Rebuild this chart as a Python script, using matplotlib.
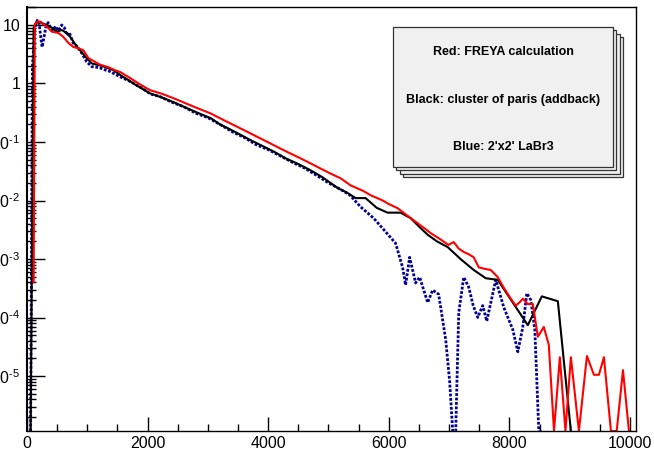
import numpy as np
import matplotlib
matplotlib.use('Agg')
import matplotlib.pyplot as plt
from matplotlib.patches import Rectangle
from matplotlib.ticker import FixedLocator, LogLocator, MultipleLocator, FuncFormatter

plt.rcParams['font.family'] = ['Liberation Sans', 'DejaVu Sans']
plt.rcParams['mathtext.fontset'] = 'custom'
plt.rcParams['mathtext.rm'] = 'Liberation Sans'

# energy (keV) and counts; 0 = empty bin (drawn on the floor)
red_e = [110, 130, 190, 260, 330, 410, 520, 600, 690, 770, 850, 935, 1020, 1110,
         1210, 1350, 1450, 1545, 1710, 1850, 2040, 2250, 2450, 2650, 2850, 3040,
         3250, 3450, 3650, 3850, 4050, 4250, 4450, 4650, 4850, 5030, 5200, 5365,
         5580, 5700, 5900, 6000, 6146, 6300, 6450, 6600, 6700, 6850, 6990, 7076,
         7160, 7243, 7330, 7409, 7492, 7590, 7691, 7807, 7910, 8023, 8106, 8165,
         8223, 8306, 8389, 8472, 8571, 8654, 8740, 8837, 8930, 9020, 9153, 9286,
         9402, 9485, 9568, 9684, 9780, 9884, 9983]
red_v = [4.0e-4, 10.5, 11.5, 10.5, 9.4, 7.7, 7.3, 6.3, 4.9, 4.2, 4.0, 3.7, 2.7, 2.4,
         2.1, 1.9, 1.7, 1.57, 1.24, 1.0, 0.77, 0.66, 0.55, 0.45, 0.37, 0.31,
         0.24, 0.19, 0.15, 0.118, 0.093, 0.073, 0.058, 0.046, 0.036, 0.029, 0.024, 0.0182,
         0.0145, 0.0123, 0.0100, 0.0087, 0.0074, 0.0056, 0.0043, 0.0033, 0.00275, 0.00219, 0.00174, 0.00195,
         0.00151, 0.00132, 0.00120, 0.00107, 7.2e-4, 6.8e-4, 6.5e-4, 4.9e-4, 3.2e-4, 2.1e-4, 1.6e-4, 1.8e-4,
         2.1e-4, 1.7e-4, 1.7e-4, 4.7e-5, 6.9e-5, 3.4e-5, 0, 2.1e-5, 0, 2.1e-5, 0, 2.2e-5,
         1.05e-5, 1.05e-5, 2.1e-5, 0, 0, 1.26e-5, 0]

black_e = [60, 110, 160, 216, 270, 330, 410, 493, 576, 640, 714, 825, 910, 992, 1075,
           1160, 1241, 1330, 1430, 1545, 1650, 1800, 2040, 2250, 2450, 2650, 2850, 3050,
           3200, 3322, 3500, 3704, 3900, 4100, 4300, 4500, 4700, 4900, 5033, 5150, 5300,
           5449, 5615, 5800, 5980, 6196, 6362, 6500, 6645, 6800, 6977, 7200, 7409, 7608,
           7807, 8057, 8306, 8538, 8804, 9020]
black_v = [0, 9.0, 11.0, 11.4, 10.5, 10.0, 9.0, 7.7, 8.2, 7.5, 6.3, 4.3, 3.4, 2.7, 2.2,
           2.1, 2.0, 1.85, 1.7, 1.4, 1.2, 0.95, 0.68, 0.57, 0.47, 0.38, 0.31, 0.255,
           0.2, 0.174, 0.14, 0.108, 0.086, 0.068, 0.052, 0.042, 0.033, 0.025, 0.020, 0.0164, 0.0138,
           0.011, 0.011, 0.0075, 0.0062, 0.0062, 0.0050, 0.0036, 0.0026, 0.0020, 0.0016, 9.8e-4, 6.5e-4, 4.7e-4,
           4.4e-4, 1.8e-4, 7.4e-5, 2.3e-4, 1.9e-4, 0]

blue_e = [60, 90, 130, 170, 200, 230, 250, 280, 310, 350, 390, 430, 470, 520, 576,
          620, 660, 700, 767, 840, 908, 990, 1075, 1150, 1213, 1300, 1380, 1545, 1700,
          1900, 2050, 2200, 2400, 2600, 2800, 3000, 3200, 3400, 3600, 3800, 4000, 4200,
          4400, 4600, 4800, 5000, 5200, 5350, 5532, 5748, 5914, 6113, 6229, 6279, 6346,
          6445, 6512, 6645, 6728, 6827, 6944, 7010, 7060, 7110, 7160, 7243, 7326, 7400,
          7475, 7558, 7625, 7774, 7907, 8057, 8140, 8223, 8289, 8355, 8422, 8488, 8540]
blue_v = [0, 2.0, 9.0, 12.0, 11.0, 6.0, 4.2, 6.0, 9.0, 11.0, 9.0, 8.0, 9.5, 8.0, 10.0,
          9.0, 6.7, 7.5, 4.9, 4.2, 3.3, 2.35, 1.94, 1.9, 1.84, 1.7, 1.6, 1.3, 1.1,
          0.84, 0.66, 0.6, 0.48, 0.4, 0.31, 0.26, 0.2, 0.15, 0.12, 0.09, 0.074, 0.058,
          0.045, 0.036, 0.027, 0.020, 0.0155, 0.0125, 0.0078, 0.0050, 0.0032, 0.00186, 7.2e-4, 3.6e-4, 1.07e-3,
          3.9e-4, 4.9e-4, 1.8e-4, 2.95e-4, 2.5e-4, 4.2e-5, 8e-6, 0, 0, 1.2e-4, 4.9e-4, 3.3e-4, 1.6e-4,
          1.0e-4, 1.6e-4, 8.7e-5, 4.4e-4, 1.5e-4, 6.2e-5, 2.6e-5, 6.9e-5, 2.6e-4, 2.0e-4, 6.2e-5, 0, 0]

box_lines = ['Red: FREYA calculation', 'Black: cluster of paris (addback)', "Blue: 2'x2' LaBr3"]

ymin, ymax = 1.15e-6, 20.3

fig = plt.figure(figsize=(6.54, 4.55), dpi=100)
ax = fig.add_axes([27/654, 1-431/455, 609/654, 424/455])

def floor(v):
    v = np.array(v, dtype=float)
    return np.where(v > 0, v, ymin)

ax.plot(blue_e, floor(blue_v), color='#000099', lw=2, ls=(0, (1, 0.6)))
ax.plot(black_e, floor(black_v), color='black', lw=1.5)
ax.plot(red_e, floor(red_v), color='#ff0000', lw=1.5)

ax.set_yscale('log')
ax.set_xlim(0, 10100)
ax.set_ylim(ymin, ymax)

ax.xaxis.set_major_locator(FixedLocator([0, 2000, 4000, 6000, 8000, 10000]))
ax.xaxis.set_minor_locator(MultipleLocator(500))
ax.yaxis.set_major_locator(FixedLocator([1e-5, 1e-4, 1e-3, 1e-2, 1e-1, 1, 10]))
ax.yaxis.set_minor_locator(LogLocator(base=10, subs=np.arange(2, 10)))

def ylab(v, pos):
    e = int(round(np.log10(v)))
    if e == 1:
        return '10'
    if e == 0:
        return '1'
    return r'$\mathregular{10^{\text{-}%d}}$' % abs(e)

ax.yaxis.set_major_formatter(FuncFormatter(ylab))
ax.yaxis.set_minor_formatter(FuncFormatter(lambda v, p: ''))

ax.tick_params(axis='both', which='both', direction='in', top=False, right=False,
               labelsize=11.5, width=1, color='black')
ax.tick_params(axis='y', which='major', length=13, pad=4.5)
ax.tick_params(axis='y', which='minor', length=6.5)
ax.tick_params(axis='x', which='major', length=10, pad=3.5)
ax.tick_params(axis='x', which='minor', length=5)
for s in ax.spines.values():
    s.set_linewidth(1)
ax.spines['left'].set_linewidth(1.5)

# stacked pave with shadow sheets
x0, y0 = 393/654, 1-167/455
w, h = 220/654, 140/455
for k in [3, 2, 1, 0]:
    dx = 3.3*k/654
    dy = 3.3*k/455
    fig.patches.append(Rectangle((x0+dx, y0-dy), w, h, transform=fig.transFigure,
                                 facecolor='#f0f0f0', edgecolor='#333333', lw=0.9))
for t, yy in zip(box_lines, [1-51.7/455, 1-100/455, 1-146.7/455]):
    fig.text(x0+w/2, yy, t, ha='center', va='center', fontsize=9, fontweight='bold')

fig.savefig('out.png', dpi=100)
